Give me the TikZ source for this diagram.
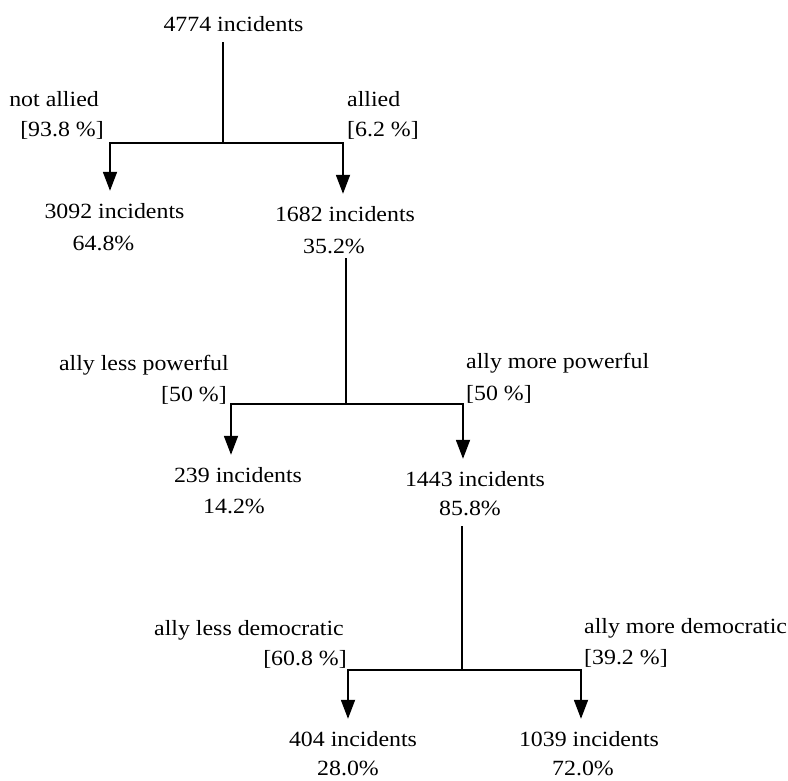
\documentclass[tikz,border=0pt]{standalone}
\usepackage{fontspec}
\setmainfont{Liberation Serif}[FakeStretch=1.1]
\usetikzlibrary{arrows.meta}
\tikzset{
  txt/.style={font=\fontsize{21.7}{26}\selectfont, text height=16pt, text depth=0pt, inner xsep=0pt, inner ysep=11pt, anchor=base},
  lbl/.style={font=\fontsize{21.7}{26}\selectfont, inner sep=0pt},
  lbll/.style={lbl, anchor=base east},
  lblr/.style={lbl, anchor=base west},
  trunk/.style={line width=1.6pt},
  branch/.style={line width=1.8pt, -{Triangle[length=19pt,width=14pt]}}
}
\begin{document}
\begin{tikzpicture}[x=1pt,y=-1pt]
\useasboundingbox (0,0) rectangle (788,780);
% level 1
\node[txt] (n4774) at (233.5,31) {4774 incidents};
\node[lbll] (l1a) at (99,106) {not allied};
\node[lbll] (l1b) at (104,136) {[93.8 \%]};
\node[lblr] (r1a) at (347,106) {allied};
\node[lblr] (r1b) at (347,136) {[6.2 \%]};
\node[txt] (n3092) at (114.5,218) {3092 incidents};
\node[txt] (p3092) at (103.5,250) {64.8\%};
\node[txt] (n1682) at (345,221) {1682 incidents};
\node[txt] (p1682) at (334,253) {35.2\%};
\coordinate (s1) at (223,143);
\coordinate (b1l) at (110,143);
\coordinate (b1r) at (343,143);
\draw[trunk] (n4774.south -| s1) -- (s1);
\draw[branch] (s1) -- (b1l) -- (b1l |- n3092.north);
\draw[branch] (s1) -- (b1r) -- (b1r |- n1682.north);
% level 2
\coordinate (s2) at (345.7,404);
\coordinate (b2l) at (231,404);
\coordinate (b2r) at (463,404);
\node[lbll] (l2a) at (229,370) {ally less powerful};
\node[lbll] (l2b) at (227,401) {[50 \%]};
\node[lblr] (r2a) at (466,368) {ally more powerful};
\node[lblr] (r2b) at (466,400) {[50 \%]};
\node[txt] (n239) at (238,482) {239 incidents};
\node[txt] (p239) at (234,513) {14.2\%};
\node[txt] (n1443) at (475,486) {1443 incidents};
\node[txt] (p1443) at (470,515) {85.8\%};
\draw[trunk, shorten <=-6pt] (p1682.south -| s2) -- (s2);
\draw[branch] (s2) -- (b2l) -- (b2l |- n239.north);
\draw[branch] (s2) -- (b2r) -- (b2r |- n1443.north);
% level 3
\coordinate (s3) at (462,670);
\coordinate (b3l) at (348,670);
\coordinate (b3r) at (581,670);
\node[lbll] (l3a) at (344,635) {ally less democratic};
\node[lbll] (l3b) at (347,665) {[60.8 \%]};
\node[lblr] (r3a) at (584,633) {ally more democratic};
\node[lblr] (r3b) at (584,664) {[39.2 \%]};
\node[txt] (n404) at (353,746) {404 incidents};
\node[txt] (p404) at (348,775) {28.0\%};
\node[txt] (n1039) at (589,746) {1039 incidents};
\node[txt] (p1039) at (583,775) {72.0\%};
\draw[trunk] (p1443.south -| s3) -- (s3);
\draw[branch] (s3) -- (b3l) -- (b3l |- n404.north);
\draw[branch] (s3) -- (b3r) -- (b3r |- n1039.north);
\end{tikzpicture}
\end{document}
